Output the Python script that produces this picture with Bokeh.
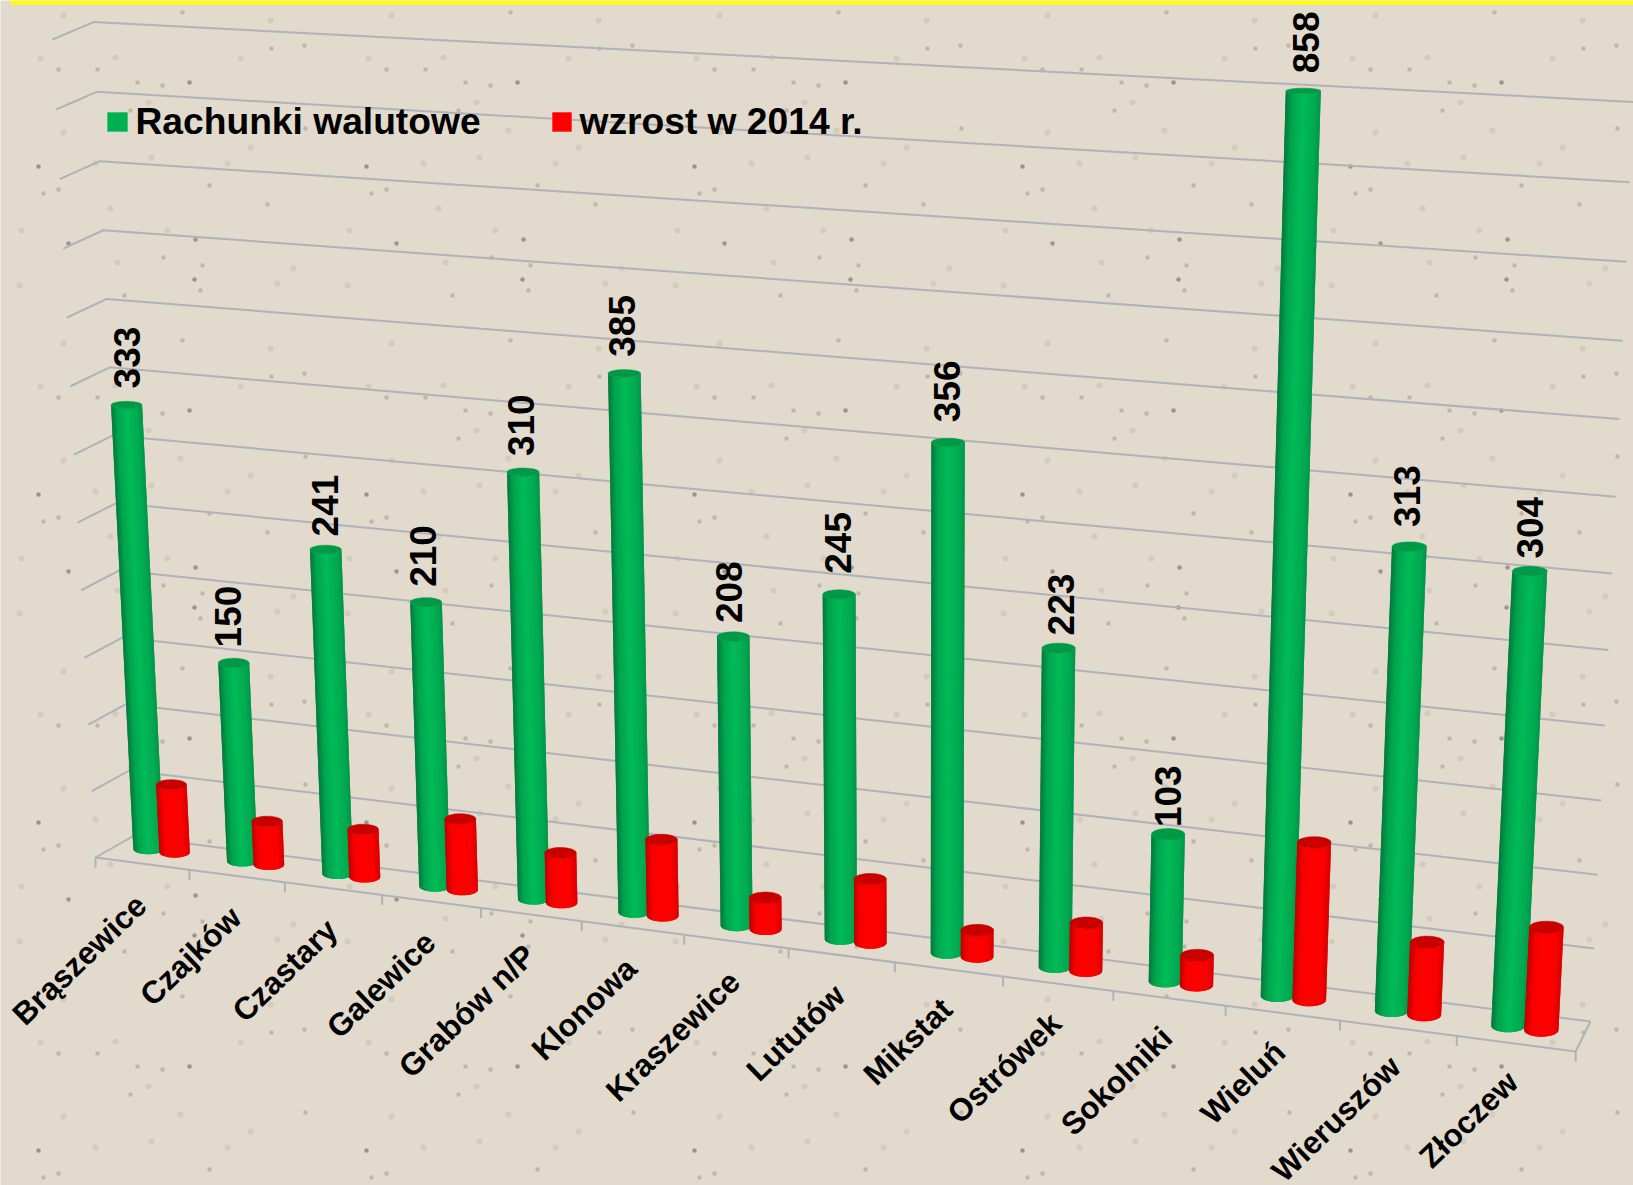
import math
import numpy as np
from bokeh.plotting import figure
from bokeh.models import Range1d
from bokeh.core.properties import value
from bokeh.embed import file_html
from bokeh.resources import INLINE

# ---------- data ----------
categories = ["Brąszewice", "Czajków", "Czastary", "Galewice", "Grabów n/P", "Klonowa", "Kraszewice",
              "Lututów", "Mikstat", "Ostrówek", "Sokolniki", "Wieluń", "Wieruszów", "Złoczew"]
rachunki = [333, 150, 241, 210, 310, 385, 208, 245, 356, 223, 103, 858, 313, 304]
wzrost = [52, 33, 36, 53, 37, 56, 23, 46, 19, 34, 21, 109, 50, 70]
series_names = ["Rachunki walutowe", "wzrost w 2014 r."]
axis_max = 600
axis_step = 50

# hand placement of the value labels, in pixels
label_dx = [0, -5, -1, -3, -2, -2, -4, -1, -1, 2, 0, 3, -2, 0]
label_dy = [0, 2, 4, 2, 1, 0, 4, -3, -3, 5, 11, -2, -2, 5]

# background tile specks (tile coordinates)
specks_strong = [(189, 82), (38, 166), (68, 243), (195, 239), (194, 279)]
specks_mid = [(137, 82), (162, 85), (58, 69), (97, 69), (182, 12), (271, 48), (304, 45), (305, 128), (130, 110),
              (43, 193), (58, 189), (209, 185), (267, 204), (163, 257), (124, 295), (200, 290), (202, 265)]
specks_weak = [(270, 20), (148, 102), (63, 132), (95, 163), (151, 157), (21, 230), (117, 262), (19, 285), (110, 208),
               (180, 130), (250, 147), (240, 58), (167, 230), (277, 283), (293, 268), (227, 163), (40, 58), (63, 15), (115, 57)]

# ---------- page and projection parameters ----------
W, H = 1633, 1185
TILE = 328
BG = "#e2dacc"
GRID = "#aeb2ba"
D = 0.00853                 # perspective along the category axis
NL = 9.6e-5                 # perspective along the value axis


def s(u):
    return 1 / (1 - D * u)


def bar_x(u):
    return 148 + 93 * u * s(u)


def bar_y(u):
    return 848.5 + 0.130 * (bar_x(u) - 148)


def bar_h(u, v):
    v = min(v, axis_max)
    return 1.292 * s(u) * v * (1 + NL * v)


def front_x(u):
    return 95 + 93.1 * u * s(u)


def front_y(u):
    return 857 + 0.1311 * (front_x(u) - 95)


def wall_left(v):
    t = v / axis_step
    return 132 - 39 * v / axis_max, 836 - 66 * t - 0.17 * t * (t - 1)


def wall_right(v):
    t = v / axis_step
    return 1590 + 43 * v / axis_max, 1021 - 73 * t - 0.33 * t * (t - 1)


def side_left(v):
    t = v / axis_step
    return 95 - 43 * v / axis_max, 857 - 66 * t - 0.17 * t * (t - 1) - 0.3 * t


def lean(x, h):
    k = 6.4e-5 if x < 920 else 8e-5
    return x + (x - 920) * k * h


def ry(r, y):
    return r * (0.14 + 0.00024 * y)


def ramp(stops, f):
    for (a, ca), (b, cb) in zip(stops, stops[1:]):
        if f <= b:
            k = (f - a) / (b - a)
            c = [round(p + (q - p) * k) for p, q in zip(ca, cb)]
            return "#%02x%02x%02x" % tuple(c)
    return "#%02x%02x%02x" % stops[-1][1]


GREEN = [(0, (0, 150, 70)), (0.15, (0, 168, 80)), (0.5, (0, 187, 88)), (0.8, (0, 165, 78)), (1, (0, 122, 58))]
RED = [(0, (215, 0, 0)), (0.2, (250, 0, 0)), (0.5, (255, 0, 0)), (0.8, (248, 0, 0)), (1, (190, 0, 0))]
GREEN_TOP = "#009a47"
RED_TOP = "#c80000"
N = 22

p = figure(width=W, height=H, x_range=Range1d(0, W), y_range=Range1d(H, 0), output_backend="svg",
           toolbar_location=None, min_border=0)
p.axis.visible = False
p.grid.visible = False
p.outline_line_color = None
p.background_fill_color = BG
p.border_fill_color = BG

# textured background
for pts, col, size in ((specks_weak, "#d0c7b9", 6), (specks_mid, "#b7afa1", 4.5), (specks_strong, "#8a8478", 4.5)):
    xs, ys = [], []
    for a in range(0, W // TILE + 1):
        for b in range(0, H // TILE + 1):
            for x, y in pts:
                xs.append(x + a * TILE)
                ys.append(y + b * TILE)
    p.scatter(xs, ys, size=size, color=col, line_color=None, alpha=0.8)

# yellow band on top
p.quad(left=[10], right=[W], top=[0], bottom=[4], color="#ffff00", line_color=None)

# walls and floor
levels = list(range(0, axis_max + 1, axis_step))
for v in levels:
    xl, yl = wall_left(v)
    xr, yr = wall_right(v)
    xf, yf = side_left(v)
    p.line([xf, xl, xr], [yf, yl, yr], line_color=GRID, line_width=2)
p.line([front_x(0), front_x(14), wall_right(0)[0]], [front_y(0), front_y(14), wall_right(0)[1]],
       line_color=GRID, line_width=2)
tx = [front_x(u) for u in range(15)]
ty = [front_y(u) for u in range(15)]
p.segment(tx, ty, tx, [y + 10 for y in ty], line_color=GRID, line_width=2)


def cylinders(vals, offset, stops, top_color):
    bx, by, bc = [], [], []
    ex, ey = [], []
    for i, v in enumerate(vals):
        u = i + offset
        x0, y0 = bar_x(u), bar_y(u)
        h = bar_h(u, v)
        x1, y1 = lean(x0, h), y0 - h
        r0 = 15.2 * s(u)
        r1 = r0 * (1 + 5e-5 * h)
        b0, b1 = ry(r0, y0), ry(r1, y1)
        for j in range(N):
            a = math.pi * (1 - j / N)
            c = math.pi * (1 - (j + 1) / N)
            e = math.pi * max(0, 1 - (j + 2) / N)     # overlap the next strip: no seams
            bx.append([x0 + r0 * math.cos(a), x0 + r0 * math.cos((a + c) / 2), x0 + r0 * math.cos(e),
                       x1 + r1 * math.cos(e), x1 + r1 * math.cos((a + c) / 2), x1 + r1 * math.cos(a)])
            by.append([y0 + b0 * math.sin(a), y0 + b0 * math.sin((a + c) / 2), y0 + b0 * math.sin(e),
                       y1 + b1 * math.sin(e), y1 + b1 * math.sin((a + c) / 2), y1 + b1 * math.sin(a)])
            f = (math.cos((a + c) / 2) * -1 + 1) / 2
            bc.append(ramp(stops, f))
        th = np.linspace(0, 2 * math.pi, 40)
        ex.append(list(x1 + r1 * np.cos(th)))
        ey.append(list(y1 + b1 * np.sin(th)))
    p.patches(bx, by, fill_color=bc, line_color=None)
    p.patches(ex, ey, fill_color=top_color, line_color=top_color, line_width=0.5)


cylinders(rachunki, 0, GREEN, GREEN_TOP)
cylinders(wzrost, 0.28, RED, RED_TOP)

FONT = value("Liberation Sans")

# value labels
lx, ly, lt = [], [], []
for i, v in enumerate(rachunki):
    x0, y0 = bar_x(i), bar_y(i)
    h = bar_h(i, v)
    b1 = ry(15.2 * s(i), y0 - h)
    lx.append(lean(x0, h) + label_dx[i] * 1.04)
    ly.append(y0 - h - b1 - 13 + label_dy[i] * 1.04)
    lt.append(str(v))
p.text(lx, ly, text=lt, angle=math.pi / 2, text_font=FONT, text_font_style="bold", text_font_size="37px",
       text_align="left", text_baseline="middle", text_color="#000000")

# category labels
p.text([bar_x(i) - 7.5 + 0.9 * i for i in range(14)], [bar_y(i) + 51 for i in range(14)], text=categories,
       angle=math.radians(44), text_font=FONT, text_font_style="bold", text_font_size="31.5px",
       text_align="right", text_baseline="middle", text_color="#000000")

# legend
p.quad(left=[107, 552], right=[127, 571], top=[112, 112], bottom=[131, 131],
       fill_color=["#00b050", "#ff0000"], line_color=["#3cc97f", "#ff4040"], line_width=1)
p.text([135, 579], [120, 120], text=series_names, text_font=FONT, text_font_style="bold", text_font_size="37.2px",
       text_align="left", text_baseline="middle", text_color="#000000")

open("out.html", "w").write(file_html(p, INLINE))
